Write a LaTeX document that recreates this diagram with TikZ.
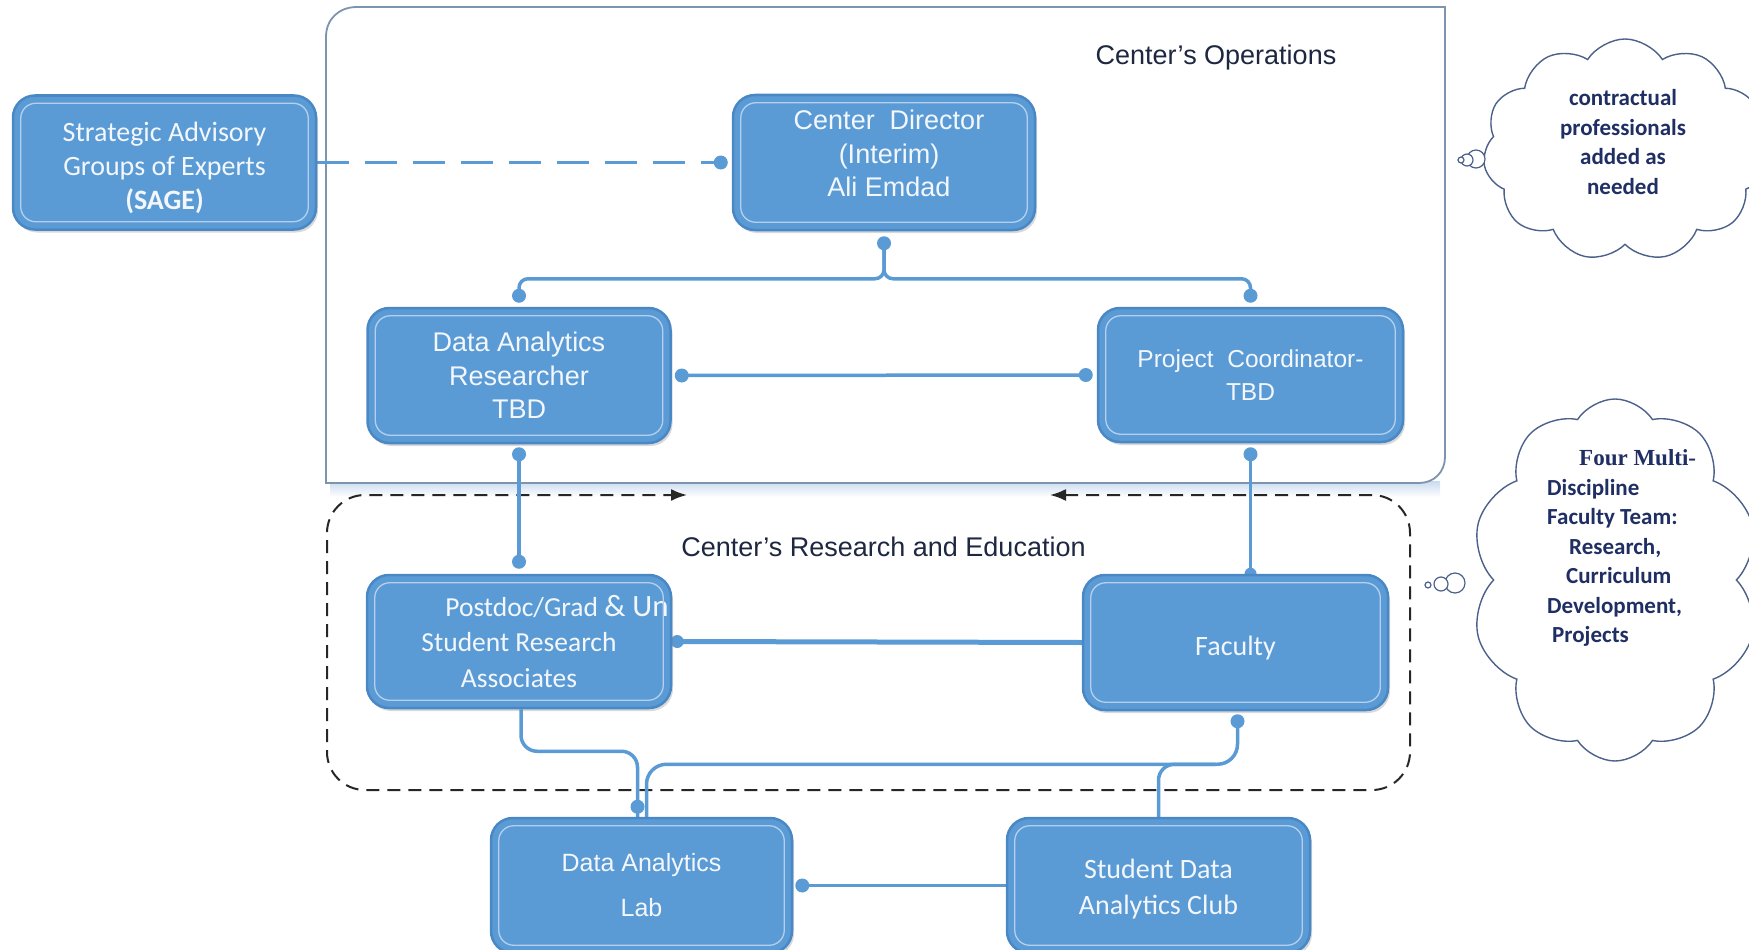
\documentclass[tikz,border=0pt]{standalone}
\usepackage{fontspec}
\setmainfont{Liberation Sans}
\newfontfamily\calfont{Carlito}
\newfontfamily\serffont{Liberation Serif}
\usetikzlibrary{shapes.symbols,shadows,calc,arrows.meta}
\definecolor{boxfill}{HTML}{5B9BD5}
\definecolor{boxedge}{HTML}{4A88C5}
\definecolor{innerline}{HTML}{B4D0EE}
\definecolor{wire}{HTML}{5B9BD5}
\definecolor{boxtext}{HTML}{F3F7FC}
\definecolor{opsedge}{HTML}{7D94AF}
\definecolor{labeltext}{HTML}{1E2740}
\definecolor{cloudedge}{HTML}{4C6189}
\definecolor{cloudtext}{HTML}{1F2E63}
\definecolor{glow}{HTML}{C9DAF0}
\pgfdeclarelayer{bg}
\pgfdeclarelayer{wires}
\pgfsetlayers{bg,wires,main}
\begin{document}
\begin{tikzpicture}[x=1pt,y=-1pt,
  orgbox/.style={draw=boxedge, line width=2.5pt, fill=boxfill, rounded corners=22pt,
    minimum width=303pt, minimum height=134pt, text=boxtext, align=center, inner sep=0pt,
    drop shadow={opacity=0.3,shadow xshift=2pt,shadow yshift=-3pt}},
  calt/.style={font=\calfont\fontsize{28}{34}\selectfont},
  arit/.style={font=\fontsize{27}{33.5}\selectfont},
  boxlabel/.style={text=boxtext, align=center, inner sep=0pt},
  innerbox/.style={draw=innerline, line width=1.3pt, rounded corners=15pt},
  wirel/.style={draw=wire, line width=3.5pt},
  dotr/.style={fill=wire},
  dashbox/.style={draw=black!85, line width=2pt, dash pattern=on 13pt off 8pt},
  opsbox/.style={draw=opsedge, line width=1.8pt},
  grouplabel/.style={text=labeltext, font=\fontsize{27}{31}\selectfont, inner sep=0pt},
  cloudsh/.style={cloud, cloud puffs=11, cloud puff arc=115, cloud ignores aspect, draw=cloudedge, line width=1.4pt, fill=white, inner sep=0pt},
  cloudtxt/.style={text=cloudtext, font=\calfont\bfseries\fontsize{23}{29.5}\selectfont, inner sep=0pt, align=center},
  bubble/.style={draw=cloudedge, line width=1.2pt, fill=white}
]
\useasboundingbox (0,0) rectangle (1749,950);

% boxes
\node[orgbox, label={[boxlabel, calt, yshift=-5pt]center:{Strategic Advisory\\Groups of Experts\\\textbf{(SAGE)}}}] (sage) at (164.5,162.5) {};
\node[orgbox, minimum width=302pt, minimum height=135pt, label={[boxlabel, arit, xshift=5pt, yshift=9pt]center:{Center\ \ Director\\(Interim)\\Ali Emdad}}] (dir) at (884,162.5) {};
\node[orgbox, arit, minimum height=135pt] (dar) at (519,375.5) {Data Analytics\\Researcher\\TBD};
\node[orgbox, font=\fontsize{24.5}{33}\selectfont, minimum width=305pt] (pc) at (1250.5,375) {Project\ \ Coordinator-\\TBD};
\node[orgbox, font=\calfont\fontsize{27.5}{35.5}\selectfont, minimum width=304pt, minimum height=133pt] (post) at (519,641.5) {\hspace*{76pt}Postdoc/Grad {\fontsize{31}{35}\selectfont\& Un}\\Student Research\\Associates};
\node[orgbox, minimum width=305pt, minimum height=135pt, label={[boxlabel, calt, yshift=-6pt]center:{Faculty}}] (fac) at (1235.5,642.5) {};
\node[orgbox, font=\fontsize{25}{45}\selectfont, minimum width=301pt, minimum height=135pt] (lab) at (641.5,885.5) {Data Analytics\\Lab};
\node[orgbox, minimum height=135pt, label={[boxlabel, font=\calfont\fontsize{28}{36}\selectfont, yshift=-4pt]center:{Student Data\\Analytics Club}}] (club) at (1158.5,885.5) {};

\foreach \n in {sage,dir,dar,pc,post,fac,lab,club}
  \draw[innerbox] ([xshift=9pt,yshift=-9pt]\n.north west) rectangle ([xshift=-9pt,yshift=9pt]\n.south east);

% group labels
\node[grouplabel] (opslabel) at (1216,58) {Center's Operations};
\node[grouplabel] (reslabel) at (883.5,547) {Center's Research and Education};

% clouds
\node[cloudsh, minimum width=284pt, minimum height=222pt] (cloudA) at (1625,150) {};
\node[cloudtxt] (cloudAtext) at (1623,142) {contractual\\professionals\\added as\\needed};
\draw[bubble] (1476,159) circle[radius=9pt];
\draw[bubble] (1467,160) circle[radius=6pt];
\draw[bubble] (1461,160) circle[radius=3pt];

\node[cloudsh, cloud puffs=10, shape border rotate=18, minimum width=288pt, minimum height=362pt] (cloudB) at (1615,580) {};
\node[cloudtxt, align=left, anchor=west] (cloudBtext) at (1547,548) {\hspace*{32pt}{\serffont\bfseries Four Multi-}\\Discipline\\Faculty Team:\\\hspace*{22pt}Research,\\\hspace*{19pt}Curriculum\\Development,\\\hspace*{5pt}Projects};
\draw[bubble] (1455,583) circle[radius=10pt];
\draw[bubble] (1441,584) circle[radius=7pt];
\draw[bubble] (1428,585) circle[radius=3pt];

% containers
\begin{pgfonlayer}{bg}
\shade[top color=glow, bottom color=white] (330,481) rectangle (1440,497);
\draw[opsbox, fill=white] (326,483) -- (326,37) .. controls (326,19) and (339,7) .. (357,7) -- (1445,7) -- (1445,457) .. controls (1445,472) and (1434,483) .. (1419,483) -- cycle;
\draw[dashbox, {Latex[length=16pt,width=12pt]}-{Latex[length=16pt,width=12pt]}, rounded corners=38pt]
  (1050,495) -- (1410,495) -- (1410,790) -- (327,790) -- (327,495) -- (687,495);
\end{pgfonlayer}

% connectors
\begin{pgfonlayer}{wires}
\draw[wirel, dash pattern=on 32pt off 16pt] (sage.east) -- ([xshift=-11pt]dir.west);
\fill[dotr] ([xshift=-11pt]dir.west) circle[radius=7pt];

\draw[wirel, rounded corners=9pt] ([yshift=-12pt]dir.south) |- ($(dar.north)+(0,-28)$) -- ([yshift=11pt]dar.north);
\draw[wirel, rounded corners=9pt] ([yshift=-12pt]dir.south) |- ($(pc.north)+(0,-28)$) -- ([yshift=11pt]pc.north);
\fill[dotr] ([yshift=-12pt]dir.south) circle[radius=7pt];
\fill[dotr] ([yshift=11pt]dar.north) circle[radius=7pt];
\fill[dotr] ([yshift=11pt]pc.north) circle[radius=7pt];

\draw[wirel] ([xshift=10pt]dar.east) -- ([xshift=-11pt]pc.west);
\fill[dotr] ([xshift=10pt]dar.east) circle[radius=7pt];
\fill[dotr] ([xshift=-11pt]pc.west) circle[radius=7pt];

\draw[wirel] ([yshift=-10pt]dar.south) -- ([yshift=12pt]post.north);
\fill[dotr] ([yshift=-10pt]dar.south) circle[radius=7pt];
\fill[dotr] ([yshift=12pt]post.north) circle[radius=7pt];

\draw[wirel] ([yshift=-11pt]pc.south) -- (pc.south |- fac.north);
\fill[dotr] ([yshift=-11pt]pc.south) circle[radius=7pt];
\fill[dotr] (pc.south |- fac.north) circle[radius=6pt];

\draw[wirel, line width=5pt] ([xshift=5pt]post.east) -- (fac.west);
\fill[dotr] ([xshift=5pt]post.east) circle[radius=6.5pt];

\draw[wirel, rounded corners=16pt] ([xshift=2pt]post.south) -- ($(post.south)+(2,42)$) -| ([xshift=-4pt]lab.north);
\fill[dotr] ([xshift=-4pt,yshift=10pt]lab.north) circle[radius=7pt];

\draw[wirel, rounded corners=20pt] ([xshift=2pt,yshift=-10pt]fac.south) -- ($(fac.south)+(2,53)$) -| ([xshift=5pt]lab.north);
\fill[dotr] ([xshift=2pt,yshift=-10pt]fac.south) circle[radius=7pt];

\draw[wirel, rounded corners=16pt] (club.north) |- ($(fac.south)+(-20,53)$);

\draw[wirel] ([xshift=9pt]lab.east) -- (club.west);
\fill[dotr] ([xshift=9pt]lab.east) circle[radius=7pt];
\end{pgfonlayer}
\end{tikzpicture}
\end{document}
